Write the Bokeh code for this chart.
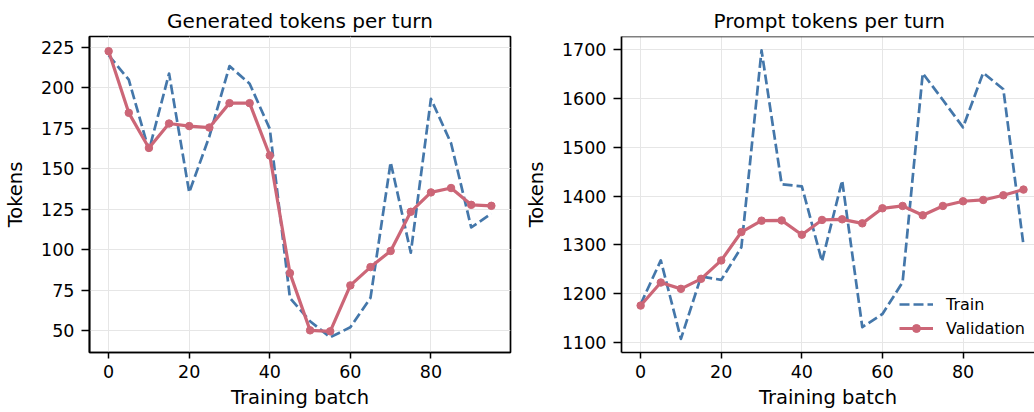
from bokeh.plotting import figure
from bokeh.layouts import row
from bokeh.models import FixedTicker, Range1d, Legend, LegendItem, Span
from bokeh.embed import file_html
from bokeh.resources import INLINE

# Training batches at which the metrics were logged
batches = list(range(0, 100, 5))

# Generated tokens per turn
gen_train = [220.2, 205.1, 161.3, 208.9, 135.4, 170.0, 213.5, 202.6, 174.7, 70.2,
             55.7, 45.8, 52.0, 70.2, 154.0, 98.1, 193.3, 165.8, 113.7, 122.3]
gen_val = [222.7, 184.6, 162.9, 178.0, 176.4, 175.5, 190.6, 190.6, 158.2, 85.5,
           50.1, 49.5, 77.9, 89.2, 99.2, 123.4, 135.4, 138.1, 127.7, 127.1]

# Prompt tokens per turn
prompt_train = [1178, 1268, 1107, 1235, 1228, 1295, 1699, 1424, 1420, 1266,
                1432, 1131, 1158, 1223, 1652, 1597, 1541, 1653, 1619, 1299]
prompt_val = [1175.3, 1222.6, 1209.6, 1230.2, 1267.9, 1326.2, 1349.5, 1350.0, 1320.7, 1351.0,
              1352.3, 1344.0, 1374.9, 1379.7, 1360.5, 1379.7, 1389.3, 1392.0, 1401.6, 1413.3]

x_ticks = [0, 20, 40, 60, 80]
gen_ticks = [50, 75, 100, 125, 150, 175, 200, 225]
prompt_ticks = [1100, 1200, 1300, 1400, 1500, 1600, 1700]

FONT = "DejaVu Sans"
TRAIN_COLOR = "#4477AA"
VAL_COLOR = "#CC6677"


def panel(title, y_train, y_val, y_ticks, y_lo, y_hi, x_hi, width, left, right, boxed):
    p = figure(width=width, height=412, title=title,
               x_range=Range1d(-4.75, x_hi), y_range=Range1d(y_lo, y_hi),
               output_backend="svg", toolbar_location=None,
               min_border_left=left, min_border_right=right,
               min_border_top=36, min_border_bottom=60)
    p.title.text_font = FONT
    p.title.text_font_size = "20px"
    p.title.text_font_style = "normal"
    p.title.text_color = "black"
    p.title.standoff = 7

    p.xaxis.ticker = FixedTicker(ticks=x_ticks)
    p.yaxis.ticker = FixedTicker(ticks=y_ticks)
    p.xaxis.axis_label = "Training batch"
    p.yaxis.axis_label = "Tokens"
    for ax in (p.xaxis, p.yaxis):
        ax.axis_label_text_font = FONT
        ax.axis_label_text_font_size = "19.5px"
        ax.axis_label_text_font_style = "normal"
        ax.axis_label_text_color = "black"
        ax.major_label_text_font = FONT
        ax.major_label_text_font_size = "17.5px"
        ax.major_label_text_color = "black"
        ax.axis_line_width = 1.7
        ax.axis_line_color = "black"
        ax.major_tick_line_width = 1.5
        ax.major_tick_line_color = "black"
        ax.major_tick_in = 0
        ax.minor_tick_line_color = None
    p.xaxis.major_tick_out = 6
    p.xaxis.major_label_standoff = 6
    p.xaxis.axis_label_standoff = 5
    p.yaxis.major_tick_out = 8
    p.yaxis.major_label_standoff = 7
    p.yaxis.axis_label_standoff = 11

    p.grid.grid_line_color = "#e6e6e6"
    p.grid.grid_line_width = 1

    if boxed:
        p.outline_line_color = "black"
        p.outline_line_width = 1.7
    else:
        p.outline_line_color = None
        p.add_layout(Span(location=y_hi, dimension="width",
                          line_color="black", line_width=1.7))

    train = p.line(batches, y_train, line_color=TRAIN_COLOR, line_width=2.7,
                   line_dash="10 4", line_join="round")
    val_line = p.line(batches, y_val, line_color=VAL_COLOR, line_width=3.2,
                      line_join="round")
    val_pts = p.scatter(batches, y_val, size=7.5, fill_color=VAL_COLOR,
                        line_color=VAL_COLOR)
    return p, train, val_line, val_pts


p1, _, _, _ = panel("Generated tokens per turn", gen_train, gen_val, gen_ticks,
                    36.4, 231.8, 99.75, 520, 89, 10, True)
p1.title.align = "center"

p2, tr, vl, vp = panel("Prompt tokens per turn", prompt_train, prompt_val, prompt_ticks,
                       1079, 1727.4, 97.73, 514, 101, 0, False)
p2.title.align = "left"
p2.title.offset = 92

legend = Legend(items=[LegendItem(label="Train", renderers=[tr]),
                       LegendItem(label="Validation", renderers=[vl, vp])],
                location=(278, 14), margin=0, padding=4, spacing=4,
                glyph_width=34, glyph_height=20, label_height=20,
                label_standoff=13, border_line_color=None,
                background_fill_color="white", background_fill_alpha=0.8,
                label_text_font=FONT, label_text_font_size="16px",
                label_text_color="black")
p2.add_layout(legend)

layout = row(p1, p2)
open("out.html", "w").write(file_html(layout, INLINE))
